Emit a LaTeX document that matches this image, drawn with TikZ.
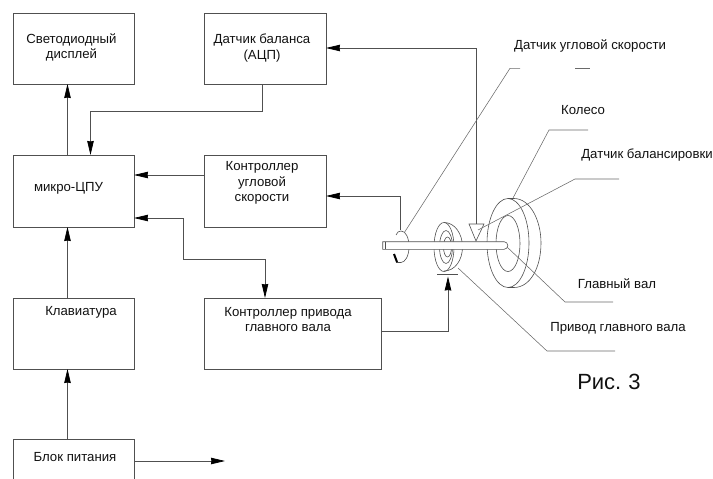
\documentclass[tikz,border=0pt]{standalone}
\usepackage{fontspec}
\setmainfont{Liberation Sans}
\usetikzlibrary{arrows.meta,calc}
\definecolor{ln}{HTML}{505050}
\definecolor{tx}{HTML}{111111}
\tikzset{
  x=1pt,y=-1pt,
  blk/.style={draw=ln,line width=.8pt,inner sep=0,outer sep=0,rectangle},
  lbl/.style={text=tx,font=\fontsize{13.2}{15.5}\selectfont,align=center,inner sep=0},
  con/.style={draw=ln,line width=.75pt},
  arr/.style={con,-{Stealth[length=14pt,width=6.5pt,inset=.5pt,color=black]}},
  lead/.style={draw=ln!85,line width=.55pt},
  mech/.style={draw=ln,line width=.6pt},
}
\newcommand{\boxat}[5]{\node[blk,minimum width=#4pt,minimum height=#5pt] (#1) at (#2,#3) {};}
\begin{document}
\begin{tikzpicture}
\useasboundingbox (0,0) rectangle (713,479);
% boxes
\boxat{disp}{73.75}{48.5}{120.5}{71}
\boxat{bal}{265}{48.5}{122}{71}
\boxat{cpu}{73.75}{191}{120.5}{72}
\boxat{ang}{265}{191}{122}{72}
\boxat{kbd}{73.75}{333.5}{120.5}{71}
\boxat{drv}{292.5}{333.5}{177}{71}
\node[inner sep=0,outer sep=0,minimum width=120.5pt,minimum height=40pt] (pwr) at (73.75,459) {};
\draw[blk] (pwr.south west) -- (pwr.north west) -- (pwr.north east) -- (pwr.south east);
% labels
\node[lbl] (tdisp) at (71.5,47.5) {Светодиодный\\дисплей};
\node[lbl] (tbal) at (262,48) {Датчик баланса\\(АЦП)};
\node[lbl] (tcpu) at (68.5,188) {микро-ЦПУ};
\node[lbl] (tang) at (262,183) {Контроллер\\угловой\\скорости};
\node[lbl] (tkbd) at (81,312) {Клавиатура};
\node[lbl] (tdrv) at (288,319.5) {Контроллер привода\\главного вала};
\node[lbl] (tpwr) at (75,457) {Блок питания};
\node[lbl] (tsa) at (590,46) {Датчик угловой скорости};
\node[lbl] (twh) at (583,110) {Колесо};
\node[lbl] (tsb) at (647,155) {Датчик балансировки};
\node[lbl] (tsh) at (617,284) {Главный вал};
\node[lbl] (tmd) at (618,328) {Привод главного вала};
\node[text=tx,font=\fontsize{22}{24}\selectfont,inner sep=0] (tfig) at (609,382) {Рис.\hspace{-1pt} 3};
% mechanism anchors
\coordinate (trip) at (476.7,224);
\coordinate (enc) at (400.7,230);
\coordinate (bar) at (448,276.5);
\coordinate (pout) at (225,461);
% connectors
\draw[arr] (cpu.north -| 67.5,0) -- (disp.south -| 67.5,0);
\draw[arr] (bal.south -| 262,0) -- (262,111) -- (90.5,111) -- (cpu.north -| 90.5,0);
\draw[arr] (ang.west |- 0,175) -- (cpu.east |- 0,175);
\draw[arr] (183,259) -- (183,218) -- (cpu.east |- 0,218);
\draw[arr] (183,259) -- (265,259) -- (drv.north -| 265,0);
\draw[arr] (kbd.north -| 67.5,0) -- (cpu.south -| 67.5,0);
\draw[arr] (pwr.north -| 67.5,0) -- (kbd.south -| 67.5,0);
\draw[arr] (pwr.east |- 0,461) -- (pout);
\draw[arr] (drv.east |- 0,331) -- (448,331) -- (bar);
\draw[arr] (trip) -- (476.7,48) -- (bal.east |- 0,48);
\draw[arr] (enc) -- (400.7,196) -- (ang.east |- 0,196);
% wheel
\draw[mech] (514,198.5) .. controls (530,198.5) and (541,220) .. (541,243) .. controls (541,268) and (530,287.5) .. (514,287.5);
\draw[mech] (508,243) ellipse [x radius=21,y radius=44.5];
\draw[mech] (508,198.5) -- (514,198.5);
\draw[mech] (508,287.5) -- (514,287.5);
\draw[mech] (508,243.5) ellipse [x radius=12,y radius=28];
% drive
\draw[mech] (444,222.5) .. controls (455,222.5) and (462.5,234) .. (462.5,247) .. controls (462.5,260) and (455,271) .. (444,271);
\draw[mech] (444,247) ellipse [x radius=10,y radius=24.5];
\draw[mech] (446,247) ellipse [x radius=6.5,y radius=16.5];
\draw[mech] (447.5,247) ellipse [x radius=4,y radius=10];
\draw[mech] (437,274.5) -- (458,274.5);
% encoder disc
\draw[mech] (396,235) .. controls (397,232) and (399,231) .. (401,231) .. controls (406,231) and (409,238) .. (409,247) .. controls (409,256) and (405,262.5) .. (401,262.5) -- (396,262.5);
\draw[line width=2pt] (394,254) -- (397,262);
% shaft
\draw[mech,fill=white] (382.7,241.7) -- (504,241.7) arc[start angle=-90,end angle=90,radius=3.8] -- (382.7,249.3) -- cycle;
\draw[mech] (385.5,241.7) -- (385.5,249.3);
\draw[mech,fill=white] (469,224) -- (484,224) -- (476,241) -- cycle;
% leaders
\draw[lead] (enc.north east) ++(4,2) -- (510,68.3) -- (520,68.3);
\draw[lead] (575,68.3) -- (590,68.3);
\draw[lead] (513,198) -- (549,130) -- (588,130);
\draw[lead] (478,230) -- (575,179) -- (619,179);
\draw[lead] (507,247) -- (565,302) -- (613,302);
\draw[lead] (458,268) -- (547,351) -- (615,351);
\end{tikzpicture}
\end{document}
